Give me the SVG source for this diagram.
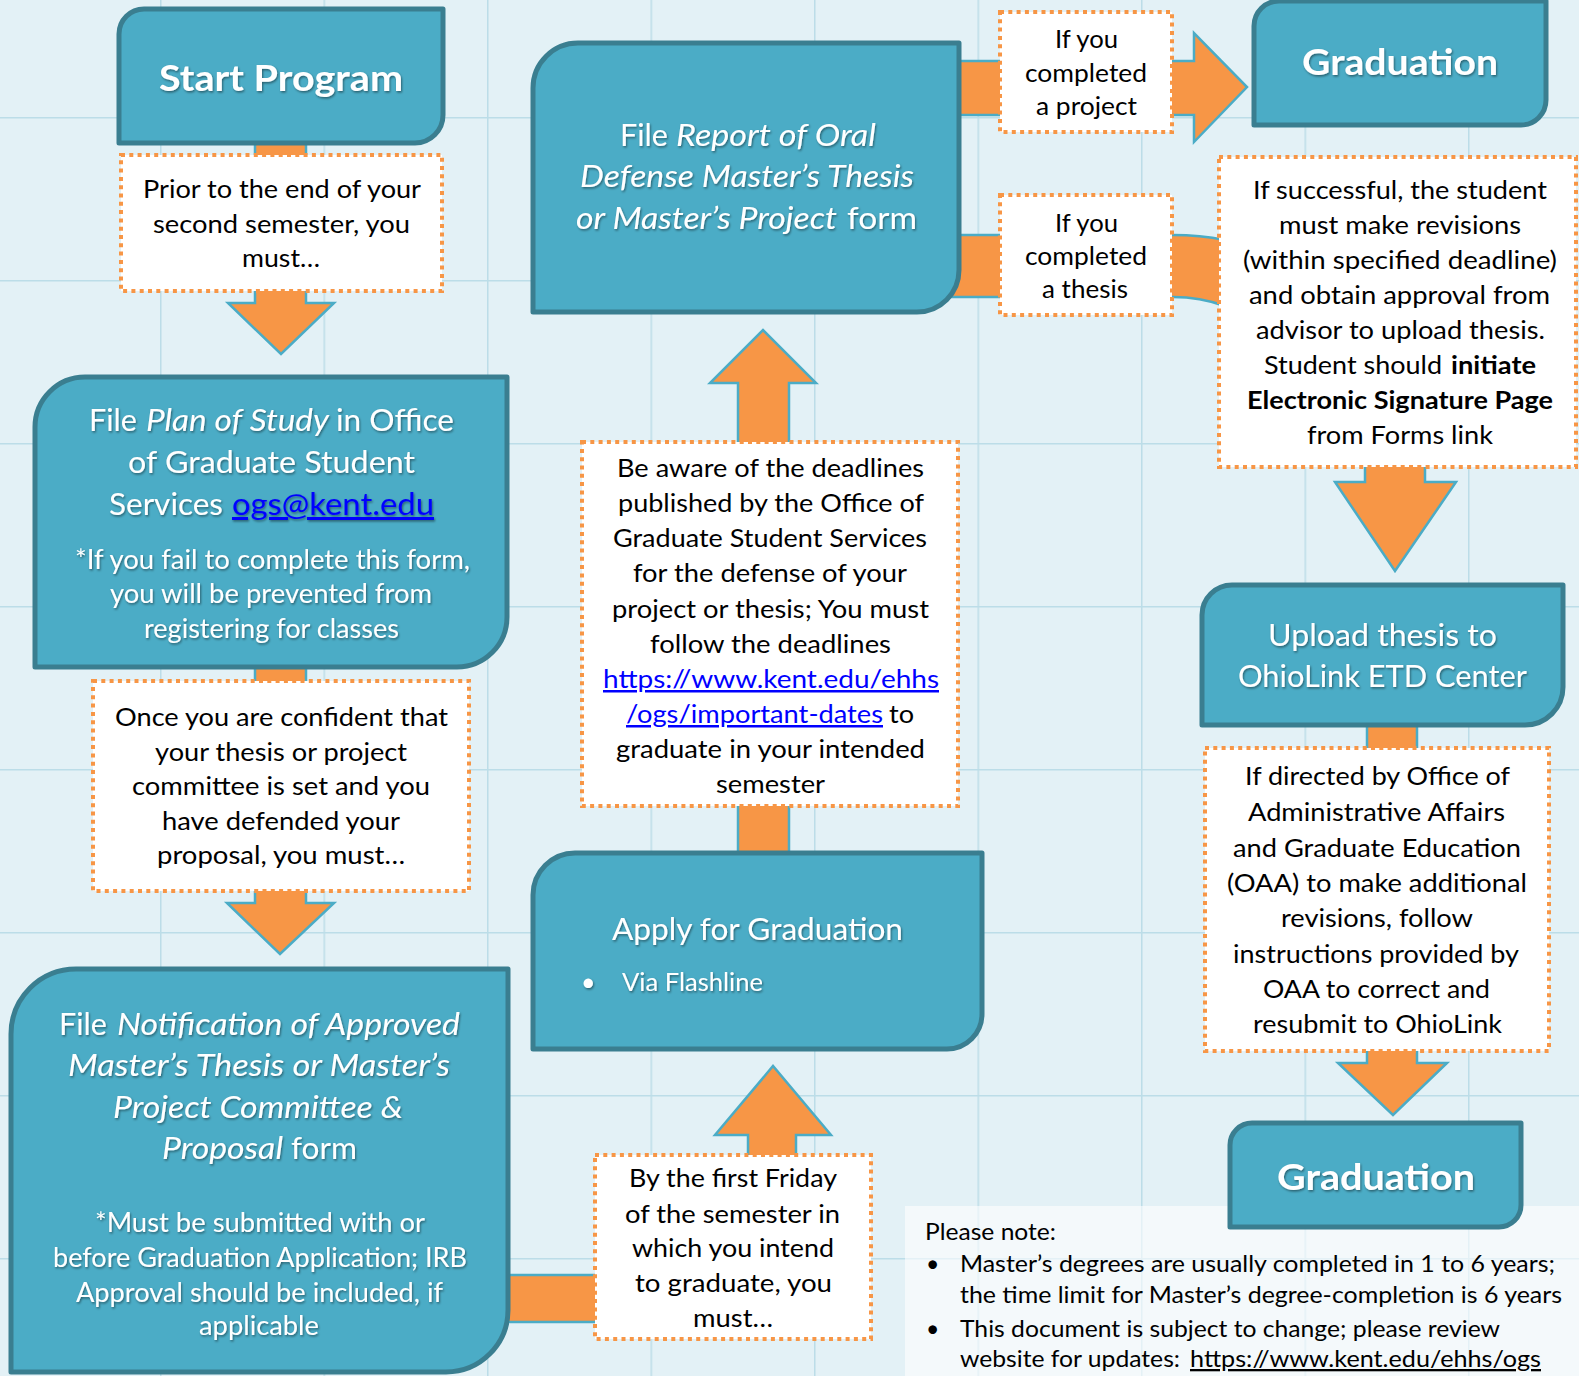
<svg xmlns="http://www.w3.org/2000/svg" width="1579" height="1376" viewBox="0 0 1579 1376">
<defs>
<pattern id="grid" x="0" y="0" width="163.5" height="163" patternUnits="userSpaceOnUse" patternTransform="translate(160 117)">
<rect width="163.5" height="163" fill="#e3f1f6"/>
<path d="M0,0 V163 M0,0 H163.5" stroke="#bcdde8" stroke-width="3" fill="none"/>
</pattern>
<filter id="ts" x="-5%" y="-30%" width="112%" height="170%">
<feDropShadow dx="1" dy="1.5" stdDeviation="1" flood-color="#000" flood-opacity="0.45"/>
</filter>
</defs>
<style>
.box{fill:#4bacc6;stroke:#3a7e90;stroke-width:5;stroke-linejoin:round}
.dot{fill:#ffffff;stroke:#f79646;stroke-width:4;stroke-dasharray:4 4.3}
.arr{fill:#f79646;stroke:#4bacc6;stroke-width:2.5;stroke-linejoin:miter}
text{font-family:Lato,"Open Sans","Liberation Sans",sans-serif}
.w{fill:#ffffff}
.k{fill:#000000;font-size:25px}
.it{font-style:italic}
.b{font-weight:bold}
.lnk{fill:#0000ff;text-decoration:underline}
.t30{font-size:30px}
.t26{font-size:26px}
.t31{font-size:31px}
.note{fill:#000000;font-size:23px}
</style>
<rect x="0" y="0" width="1579" height="1376" fill="url(#grid)"/>

<g id="connectors">
<path class="arr" d="M255,140 H306 V303 H334 L281,354 L228,303 H255 Z"/>
<path class="arr" d="M255,664 H306 V903 H334 L280,954 L227,903 H255 Z"/>
<path class="arr" d="M505,1275 H600 V1322 H505 Z"/>
<path class="arr" d="M748,1160 V1135 H715 L773,1066 L831,1135 H796 V1160 Z"/>
<path class="arr" d="M738,856 V383 H710 L763,330 L816,383 H789 V856 Z"/>
<path class="arr" d="M955,61 H1194 V33 L1247,87 L1194,142 V115 H955 Z"/>
<path class="arr" d="M950,235 H1173 Q1200,235 1225,240 V306 Q1200,297 1173,297 H950 Z"/>
<path class="arr" d="M1365,460 H1425 V482 H1456 L1395,571 L1335,482 H1365 Z"/>
<path class="arr" d="M1367,722 H1417 V1063 H1447 L1393,1115 L1338,1063 H1367 Z"/>
</g>

<g id="note">
<rect x="905" y="1206" width="680" height="175" fill="#ffffff" fill-opacity="0.6"/>
<text class="note" x="925" y="1240" textLength="131" lengthAdjust="spacingAndGlyphs">Please note:</text>
<text class="note" x="926" y="1272">•</text>
<text class="note" x="960" y="1272" textLength="595" lengthAdjust="spacingAndGlyphs">Master’s degrees are usually completed in 1 to 6 years;</text>
<text class="note" x="960" y="1303" textLength="602" lengthAdjust="spacingAndGlyphs">the time limit for Master’s degree-completion is 6 years</text>
<text class="note" x="926" y="1337">•</text>
<text class="note" x="960" y="1337" textLength="540" lengthAdjust="spacingAndGlyphs">This document is subject to change; please review</text>
<text class="note" x="960" y="1367" textLength="220" lengthAdjust="spacingAndGlyphs">website for updates:</text>
<text class="note lnk" x="1190" y="1367" textLength="351" lengthAdjust="spacingAndGlyphs">https://www.kent.edu/ehhs/ogs</text>
</g>

<g id="start-program">
<path class="box" d="M144,9 H443 V115 A28,28 0 0 1 415,143 H119 V34 A25,25 0 0 1 144,9 Z"/>
<text class="w b" filter="url(#ts)" x="159" y="91" font-size="37" textLength="244" lengthAdjust="spacingAndGlyphs">Start Program</text>
</g>

<g id="note-second-semester">
<rect class="dot" x="121" y="155" width="321" height="136"/>
<text class="k" x="143" y="198" textLength="278" lengthAdjust="spacingAndGlyphs">Prior to the end of your</text>
<text class="k" x="153" y="233" textLength="257" lengthAdjust="spacingAndGlyphs">second semester, you</text>
<text class="k" x="242" y="267" textLength="78" lengthAdjust="spacingAndGlyphs">must…</text>
</g>

<g id="plan-of-study">
<path class="box" d="M85,377 H507 V617 A50,50 0 0 1 457,667 H35 V427 A50,50 0 0 1 85,377 Z"/>
<g class="w" filter="url(#ts)">
<text class="w t30" x="89" y="431" textLength="48" lengthAdjust="spacingAndGlyphs">File</text>
<text class="w t30 it" x="146" y="431" textLength="183" lengthAdjust="spacingAndGlyphs">Plan of Study</text>
<text class="w t30" x="336" y="431" textLength="118" lengthAdjust="spacingAndGlyphs">in Office</text>
<text class="w t30" x="128" y="473" textLength="287" lengthAdjust="spacingAndGlyphs">of Graduate Student</text>
<text class="w t30" x="109" y="515" textLength="114" lengthAdjust="spacingAndGlyphs">Services</text>
<text class="t30 lnk" x="232" y="515" textLength="202" lengthAdjust="spacingAndGlyphs">ogs@kent.edu</text>
<text class="w t26" x="75" y="569" textLength="395" lengthAdjust="spacingAndGlyphs">*If you fail to complete this form,</text>
<text class="w t26" x="110" y="603" textLength="322" lengthAdjust="spacingAndGlyphs">you will be prevented from</text>
<text class="w t26" x="144" y="638" textLength="255" lengthAdjust="spacingAndGlyphs">registering for classes</text>
</g>
</g>

<g id="note-committee">
<rect class="dot" x="93" y="681" width="376" height="210"/>
<text class="k" x="115" y="726" textLength="333" lengthAdjust="spacingAndGlyphs">Once you are confident that</text>
<text class="k" x="155" y="761" textLength="252" lengthAdjust="spacingAndGlyphs">your thesis or project</text>
<text class="k" x="132" y="795" textLength="298" lengthAdjust="spacingAndGlyphs">committee is set and you</text>
<text class="k" x="162" y="830" textLength="238" lengthAdjust="spacingAndGlyphs">have defended your</text>
<text class="k" x="157" y="864" textLength="248" lengthAdjust="spacingAndGlyphs">proposal, you must…</text>
</g>

<g id="notification-form">
<path class="box" d="M76,969 H508 V1310 A62,62 0 0 1 446,1372 H11 V1034 A65,65 0 0 1 76,969 Z"/>
<g filter="url(#ts)">
<text class="w t31" x="59" y="1035" textLength="48" lengthAdjust="spacingAndGlyphs">File</text>
<text class="w t31 it" x="117" y="1035" textLength="343" lengthAdjust="spacingAndGlyphs">Notification of Approved</text>
<text class="w t31 it" x="68" y="1076" textLength="382" lengthAdjust="spacingAndGlyphs">Master’s Thesis or Master’s</text>
<text class="w t31 it" x="113" y="1118" textLength="290" lengthAdjust="spacingAndGlyphs">Project Committee &amp;</text>
<text class="w t31 it" x="162" y="1159" textLength="121" lengthAdjust="spacingAndGlyphs">Proposal</text>
<text class="w t31" x="291" y="1159" textLength="66" lengthAdjust="spacingAndGlyphs">form</text>
<text class="w t26" x="95" y="1232" textLength="330" lengthAdjust="spacingAndGlyphs">*Must be submitted with or</text>
<text class="w t26" x="53" y="1267" textLength="414" lengthAdjust="spacingAndGlyphs">before Graduation Application; IRB</text>
<text class="w t26" x="76" y="1302" textLength="367" lengthAdjust="spacingAndGlyphs">Approval should be included, if</text>
<text class="w t26" x="199" y="1335" textLength="120" lengthAdjust="spacingAndGlyphs">applicable</text>
</g>
</g>

<g id="note-first-friday">
<rect class="dot" x="595" y="1155" width="276" height="184"/>
<text class="k" x="629" y="1187" textLength="208" lengthAdjust="spacingAndGlyphs">By the first Friday</text>
<text class="k" x="625" y="1223" textLength="215" lengthAdjust="spacingAndGlyphs">of the semester in</text>
<text class="k" x="632" y="1257" textLength="202" lengthAdjust="spacingAndGlyphs">which you intend</text>
<text class="k" x="635" y="1292" textLength="197" lengthAdjust="spacingAndGlyphs">to graduate, you</text>
<text class="k" x="693" y="1327" textLength="80" lengthAdjust="spacingAndGlyphs">must…</text>
</g>

<g id="apply-for-graduation">
<path class="box" d="M575,853 H982 V1014 A35,35 0 0 1 947,1049 H533 V895 A42,42 0 0 1 575,853 Z"/>
<g filter="url(#ts)">
<text class="w t31" x="612" y="940" textLength="291" lengthAdjust="spacingAndGlyphs">Apply for Graduation</text>
<text class="w" x="581" y="991" font-size="25">•</text>
<text class="w" x="622" y="991" font-size="25" textLength="141" lengthAdjust="spacingAndGlyphs">Via Flashline</text>
</g>
</g>

<g id="note-deadlines">
<rect class="dot" x="582" y="442" width="376" height="364"/>
<text class="k" x="617" y="477" textLength="307" lengthAdjust="spacingAndGlyphs">Be aware of the deadlines</text>
<text class="k" x="618" y="512" textLength="306" lengthAdjust="spacingAndGlyphs">published by the Office of</text>
<text class="k" x="613" y="547" textLength="314" lengthAdjust="spacingAndGlyphs">Graduate Student Services</text>
<text class="k" x="633" y="582" textLength="274" lengthAdjust="spacingAndGlyphs">for the defense of your</text>
<text class="k" x="612" y="618" textLength="317" lengthAdjust="spacingAndGlyphs">project or thesis; You must</text>
<text class="k" x="650" y="653" textLength="241" lengthAdjust="spacingAndGlyphs">follow the deadlines</text>
<text class="k lnk" x="603" y="688" textLength="336" lengthAdjust="spacingAndGlyphs">https://www.kent.edu/ehhs</text>
<text class="k lnk" x="626" y="723" textLength="257" lengthAdjust="spacingAndGlyphs">/ogs/important-dates</text>
<text class="k" x="889" y="723" textLength="25" lengthAdjust="spacingAndGlyphs">to</text>
<text class="k" x="616" y="758" textLength="309" lengthAdjust="spacingAndGlyphs">graduate in your intended</text>
<text class="k" x="716" y="793" textLength="109" lengthAdjust="spacingAndGlyphs">semester</text>
</g>

<g id="report-oral-defense">
<path class="box" d="M578,43 H959 V270 A42,42 0 0 1 917,312 H533 V88 A45,45 0 0 1 578,43 Z"/>
<g filter="url(#ts)">
<text class="w t30" x="620" y="146" textLength="48" lengthAdjust="spacingAndGlyphs">File</text>
<text class="w t30 it" x="676" y="146" textLength="200" lengthAdjust="spacingAndGlyphs">Report of Oral</text>
<text class="w t30 it" x="580" y="187" textLength="334" lengthAdjust="spacingAndGlyphs">Defense Master’s Thesis</text>
<text class="w t30 it" x="576" y="229" textLength="261" lengthAdjust="spacingAndGlyphs">or Master’s Project</text>
<text class="w t30" x="847" y="229" textLength="70" lengthAdjust="spacingAndGlyphs">form</text>
</g>
</g>

<g id="note-project">
<rect class="dot" x="1000" y="12" width="172" height="120"/>
<text class="k" x="1055" y="48" textLength="63" lengthAdjust="spacingAndGlyphs">If you</text>
<text class="k" x="1025" y="82" textLength="122" lengthAdjust="spacingAndGlyphs">completed</text>
<text class="k" x="1036" y="115" textLength="101" lengthAdjust="spacingAndGlyphs">a project</text>
</g>

<g id="note-thesis">
<rect class="dot" x="1000" y="195" width="172" height="120"/>
<text class="k" x="1055" y="232" textLength="63" lengthAdjust="spacingAndGlyphs">If you</text>
<text class="k" x="1025" y="265" textLength="122" lengthAdjust="spacingAndGlyphs">completed</text>
<text class="k" x="1042" y="298" textLength="86" lengthAdjust="spacingAndGlyphs">a thesis</text>
</g>

<g id="graduation-top">
<path class="box" d="M1279,1 H1546 V100 A25,25 0 0 1 1521,125 H1254 V26 A25,25 0 0 1 1279,1 Z"/>
<text class="w b" filter="url(#ts)" x="1302" y="75" font-size="37" textLength="196" lengthAdjust="spacingAndGlyphs">Graduation</text>
</g>

<g id="note-revisions">
<rect class="dot" x="1219" y="157" width="357" height="310"/>
<text class="k" x="1253" y="199" textLength="294" lengthAdjust="spacingAndGlyphs">If successful, the student</text>
<text class="k" x="1279" y="234" textLength="242" lengthAdjust="spacingAndGlyphs">must make revisions</text>
<text class="k" x="1243" y="269" textLength="314" lengthAdjust="spacingAndGlyphs">(within specified deadline)</text>
<text class="k" x="1249" y="304" textLength="301" lengthAdjust="spacingAndGlyphs">and obtain approval from</text>
<text class="k" x="1256" y="339" textLength="289" lengthAdjust="spacingAndGlyphs">advisor to upload thesis.</text>
<text class="k" x="1264" y="374" textLength="178" lengthAdjust="spacingAndGlyphs">Student should</text>
<text class="k b" x="1451" y="374" textLength="85" lengthAdjust="spacingAndGlyphs">initiate</text>
<text class="k b" x="1247" y="409" textLength="306" lengthAdjust="spacingAndGlyphs">Electronic Signature Page</text>
<text class="k" x="1307" y="444" textLength="186" lengthAdjust="spacingAndGlyphs">from Forms link</text>
</g>

<g id="upload-thesis">
<path class="box" d="M1232,585 H1563 V687 A38,38 0 0 1 1525,725 H1202 V615 A30,30 0 0 1 1232,585 Z"/>
<g filter="url(#ts)">
<text class="w t31" x="1268" y="646" textLength="229" lengthAdjust="spacingAndGlyphs">Upload thesis to</text>
<text class="w t31" x="1238" y="687" textLength="289" lengthAdjust="spacingAndGlyphs">OhioLink ETD Center</text>
</g>
</g>

<g id="note-oaa">
<rect class="dot" x="1205" y="748" width="344" height="303"/>
<text class="k" x="1245" y="785" textLength="265" lengthAdjust="spacingAndGlyphs">If directed by Office of</text>
<text class="k" x="1248" y="821" textLength="257" lengthAdjust="spacingAndGlyphs">Administrative Affairs</text>
<text class="k" x="1233" y="857" textLength="288" lengthAdjust="spacingAndGlyphs">and Graduate Education</text>
<text class="k" x="1227" y="892" textLength="300" lengthAdjust="spacingAndGlyphs">(OAA) to make additional</text>
<text class="k" x="1281" y="927" textLength="192" lengthAdjust="spacingAndGlyphs">revisions, follow</text>
<text class="k" x="1233" y="963" textLength="286" lengthAdjust="spacingAndGlyphs">instructions provided by</text>
<text class="k" x="1263" y="998" textLength="227" lengthAdjust="spacingAndGlyphs">OAA to correct and</text>
<text class="k" x="1253" y="1033" textLength="249" lengthAdjust="spacingAndGlyphs">resubmit to OhioLink</text>
</g>

<g id="graduation-bottom">
<path class="box" d="M1252,1123 H1521 V1205 A22,22 0 0 1 1499,1227 H1230 V1145 A22,22 0 0 1 1252,1123 Z"/>
<text class="w b" filter="url(#ts)" x="1277" y="1190" font-size="36" textLength="198" lengthAdjust="spacingAndGlyphs">Graduation</text>
</g>
</svg>
